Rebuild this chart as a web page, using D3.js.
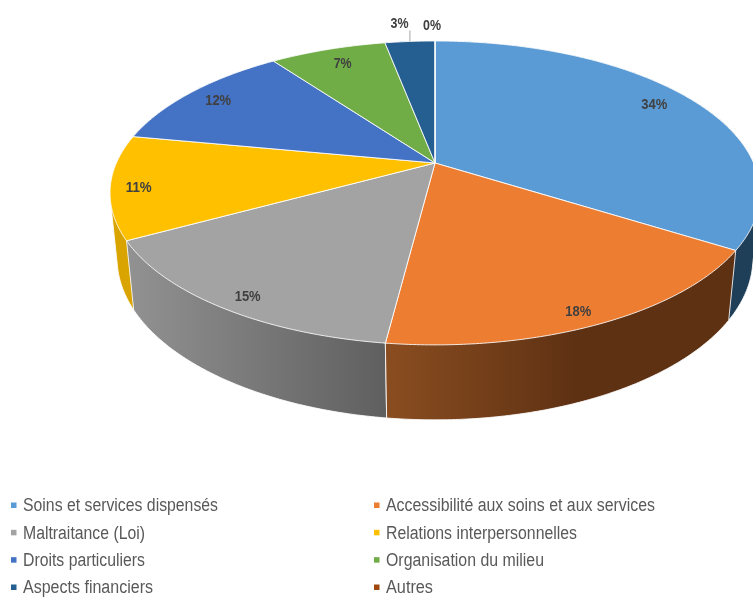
<!DOCTYPE html>
<html><head><meta charset="utf-8">
<script src="https://cdn.jsdelivr.net/npm/d3@7"></script>
<style>
html,body{margin:0;padding:0;background:#fff}
svg{display:block;filter:blur(0.4px)}
</style></head><body>
<svg id="c" width="753" height="597"></svg>
<script>
const categories = ["Soins et services dispensés","Accessibilité aux soins et aux services","Maltraitance (Loi)","Relations interpersonnelles","Droits particuliers","Organisation du milieu","Aspects financiers","Autres"];
const values = [34,18,15,11,12,7,3,0];
const topColors = ["#5B9BD5","#ED7D31","#A3A3A3","#FFC000","#4472C4","#70AD47","#255E91","#9E480E"];
const wallFrom = ["#1f3e58","#8a4d20","#929292","#d9a400","#2f4f88","#4e7a32","#1a4266","#6e320a"];
const wallTo = ["#1f3e58","#5e3113","#5f5f5f","#d9a400","#2f4f88","#4e7a32","#1a4266","#6e320a"];
const wallStop = [1,0.55,1,1,1,1,1,1];
const wallOrder = [7,6,5,4,0,3,2,1];

// projection of the tilted disc (layout)
const cx=435, cy=163, R=318.6, A=146.05, P=0.197, DC=65.7, DD=0.0214;
function proj(a,r,h){ // a: clockwise angle from top, r: radius fraction, h: 0 top face / 1 base
  const u=Math.sin(a)*r, v=-Math.cos(a)*r, w=1-P*v+h*DD;
  return [cx+R*u/w, cy+(A*v+h*DC)/w];
}
function arcPts(a0,a1,h,r=1){
  const n=Math.max(1,Math.ceil((a1-a0)/0.01));
  return d3.range(n+1).map(i=>proj(a0+(a1-a0)*i/n,r,h));
}
const svg=d3.select("#c");
const defs=svg.append("defs");
const line=d3.line();
const pie=d3.pie().sort(null).value(d=>d)(values);

// side walls
const walls=svg.append("g");
wallOrder.forEach(i=>{
  const s=pie[i];
  if(s.endAngle-s.startAngle<=0) return;
  const pts=d3.polygonHull(arcPts(s.startAngle,s.endAngle,0).concat(arcPts(s.startAngle,s.endAngle,1)));
  const xs=d3.extent(pts,p=>p[0]);
  const id="w"+i;
  const g=defs.append("linearGradient").attr("id",id).attr("gradientUnits","userSpaceOnUse")
    .attr("x1",xs[0]).attr("x2",xs[1]).attr("y1",0).attr("y2",0);
  g.append("stop").attr("offset",0).attr("stop-color",wallFrom[i]);
  g.append("stop").attr("offset",wallStop[i]).attr("stop-color",wallTo[i]);
  walls.append("path").attr("d",line(pts)+"Z").attr("fill",`url(#${id})`)
    .attr("stroke","#fff").attr("stroke-width",1).attr("stroke-opacity",.85).attr("stroke-linejoin","round");
});

// top face
const tops=svg.append("g");
pie.forEach((s,i)=>{
  const pts=[[cx,cy]].concat(arcPts(s.startAngle,s.endAngle,0));
  tops.append("path").attr("d",line(pts)+"Z").attr("fill",topColors[i])
    .attr("stroke","#fff").attr("stroke-width",1).attr("stroke-opacity",.85).attr("stroke-linejoin","round");
});

// data labels
const labelRadius=[0.87,0.92,0.91,0.9,0.85,0.83,1.17,1.13];
const labelNudge=[[-5,-3],[-6,2],[4,4],[-5,2],[-7,-2],[-1,-4],[-7,-2],[-3,-3]];
const labels=svg.append("g").attr("font-family","'Liberation Sans',Arial,sans-serif")
  .attr("font-weight","700").attr("font-size",15).attr("fill","#404040").attr("text-anchor","middle");
pie.forEach((s,i)=>{
  const mid=(s.startAngle+s.endAngle)/2;
  const p=proj(mid,labelRadius[i],0);
  const txt=values[i]+"%";
  labels.append("text").attr("x",p[0]+labelNudge[i][0]).attr("y",p[1]+labelNudge[i][1]).attr("dy","0.36em")
    .attr("textLength",txt.length===3?26:18).attr("lengthAdjust","spacingAndGlyphs").text(txt);
});
// leader for the small slice
const leadA=(pie[6].startAngle+pie[6].endAngle)/2, lead=proj(leadA,1,0);
svg.append("line").attr("x1",lead[0]).attr("x2",lead[0]).attr("y1",lead[1]).attr("y2",lead[1]-11)
  .attr("stroke","#a6a6a6").attr("stroke-width",1);

// legend
const colX=d3.scaleOrdinal().domain([0,1]).range([11,374]);
const rowY=d3.scalePoint().domain([0,1,2,3]).range([505,587]);
const legendW=[195,269,122,191,122,158,130,47];
const leg=svg.append("g").attr("font-family","'Liberation Sans',Arial,sans-serif").attr("font-size",18).attr("fill","#595959");
categories.forEach((c,i)=>{
  const x=colX(i%2), y=rowY(Math.floor(i/2));
  leg.append("rect").attr("x",x).attr("y",y-2.5).attr("width",5.5).attr("height",5.5).attr("fill",topColors[i]);
  leg.append("text").attr("x",x+12).attr("y",y).attr("dy","0.36em")
    .attr("textLength",legendW[i]).attr("lengthAdjust","spacingAndGlyphs").text(c);
});
</script>
</body></html>
